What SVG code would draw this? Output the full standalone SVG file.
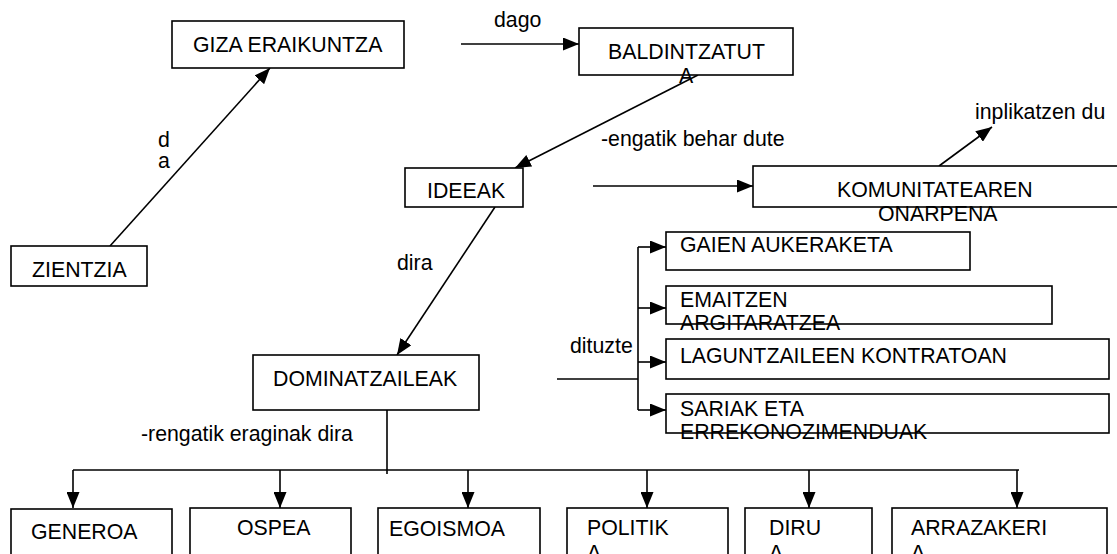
<svg xmlns="http://www.w3.org/2000/svg" width="1117" height="554" viewBox="0 0 1117 554">
  <style>
    .box { fill: #fff; stroke: #000; stroke-width: 1.6; }
    .t { font-family: "Liberation Sans", Arial, sans-serif; font-size: 21.3px; fill: #000; }
    .ln { fill: none; stroke: #000; stroke-width: 1.6; }
    .arr { fill: none; stroke: #000; stroke-width: 1.6; marker-end: url(#ah); }
  </style>
  <defs>
    <marker id="ah" markerUnits="userSpaceOnUse" markerWidth="17" markerHeight="13" refX="16" refY="6.5" orient="auto">
      <path d="M0,0 L16,6.5 L0,13 z" fill="#000"/>
    </marker>
  </defs>
  <rect width="1117" height="554" fill="#fff"/>

  <!-- connectors and their labels -->
  <g id="connectors">
    <line class="arr" x1="110" y1="246" x2="270" y2="68"/>
    <text class="t" x="158" y="147">d</text>
    <text class="t" x="158" y="168">a</text>

    <line class="arr" x1="461" y1="44" x2="579" y2="44"/>
    <text class="t" x="494" y="27">dago</text>

    <line class="arr" x1="698" y1="75" x2="515" y2="168"/>

    <line class="arr" x1="593" y1="186" x2="753" y2="186"/>
    <text class="t" x="601" y="146">-engatik behar dute</text>

    <line class="arr" x1="939" y1="166" x2="992" y2="127"/>
    <text class="t" x="975" y="119">inplikatzen du</text>

    <line class="arr" x1="495" y1="207" x2="397" y2="355"/>
    <text class="t" x="397" y="270">dira</text>

    <!-- bracket towards the four activities -->
    <line class="ln" x1="557" y1="379" x2="638" y2="379"/>
    <line class="ln" x1="638" y1="247" x2="638" y2="410"/>
    <line class="arr" x1="638" y1="247" x2="666" y2="247"/>
    <line class="arr" x1="638" y1="308" x2="666" y2="308"/>
    <line class="arr" x1="638" y1="362" x2="666" y2="362"/>
    <line class="arr" x1="638" y1="410" x2="666" y2="410"/>
    <text class="t" x="570" y="353">dituzte</text>

    <!-- tree from DOMINATZAILEAK down to the influences -->
    <line class="ln" x1="387" y1="410" x2="387" y2="474"/>
    <line class="ln" x1="73" y1="470" x2="1019" y2="470"/>
    <line class="arr" x1="73" y1="470" x2="73" y2="508"/>
    <line class="arr" x1="280" y1="470" x2="280" y2="508"/>
    <line class="arr" x1="468" y1="470" x2="468" y2="508"/>
    <line class="arr" x1="647" y1="470" x2="647" y2="508"/>
    <line class="arr" x1="809" y1="470" x2="809" y2="508"/>
    <line class="arr" x1="1017" y1="470" x2="1017" y2="508"/>
    <text class="t" x="141" y="441">-rengatik eraginak dira</text>
  </g>

  <g id="giza-eraikuntza">
    <rect class="box" x="172" y="21" width="232" height="47"/>
    <text class="t" x="193" y="52">GIZA ERAIKUNTZA</text>
  </g>
  <g id="zientzia">
    <rect class="box" x="11" y="246" width="136" height="40"/>
    <text class="t" x="32" y="277">ZIENTZIA</text>
  </g>
  <g id="baldintzatuta">
    <rect class="box" x="579" y="28" width="214" height="47"/>
    <text class="t" x="608" y="59">BALDINTZATUT</text>
    <text class="t" x="679" y="83">A</text>
  </g>
  <g id="ideeak">
    <rect class="box" x="405" y="168" width="118" height="39"/>
    <text class="t" x="427" y="198">IDEEAK</text>
  </g>
  <g id="komunitatearen-onarpena">
    <rect class="box" x="753" y="166" width="390" height="41"/>
    <text class="t" x="837" y="197">KOMUNITATEAREN</text>
    <text class="t" x="878" y="221">ONARPENA</text>
  </g>
  <g id="dominatzaileak">
    <rect class="box" x="253" y="355" width="226" height="55"/>
    <text class="t" x="273" y="386">DOMINATZAILEAK</text>
  </g>
  <g id="gaien-aukeraketa">
    <rect class="box" x="666" y="232" width="304" height="38"/>
    <text class="t" x="680" y="252">GAIEN AUKERAKETA</text>
  </g>
  <g id="emaitzen-argitaratzea">
    <rect class="box" x="666" y="286" width="386" height="38"/>
    <text class="t" x="680" y="307">EMAITZEN</text>
    <text class="t" x="680" y="330">ARGITARATZEA</text>
  </g>
  <g id="laguntzaileen-kontratoan">
    <rect class="box" x="666" y="339" width="443" height="40"/>
    <text class="t" x="680" y="363">LAGUNTZAILEEN KONTRATOAN</text>
  </g>
  <g id="sariak-eta-errekonozimenduak">
    <rect class="box" x="666" y="394" width="443" height="39"/>
    <text class="t" x="680" y="416">SARIAK ETA</text>
    <text class="t" x="680" y="439">ERREKONOZIMENDUAK</text>
  </g>

  <g id="generoa">
    <rect class="box" x="11" y="509" width="161" height="60"/>
    <text class="t" x="31" y="539">GENEROA</text>
  </g>
  <g id="ospea">
    <rect class="box" x="190" y="508" width="161" height="60"/>
    <text class="t" x="237" y="535">OSPEA</text>
  </g>
  <g id="egoismoa">
    <rect class="box" x="378" y="508" width="162" height="60"/>
    <text class="t" x="389" y="536">EGOISMOA</text>
  </g>
  <g id="politika">
    <rect class="box" x="567" y="508" width="161" height="60"/>
    <text class="t" x="587" y="535">POLITIK</text>
    <text class="t" x="587" y="560">A</text>
  </g>
  <g id="dirua">
    <rect class="box" x="745" y="508" width="127" height="60"/>
    <text class="t" x="769" y="535">DIRU</text>
    <text class="t" x="769" y="560">A</text>
  </g>
  <g id="arrazakeria">
    <rect class="box" x="892" y="508" width="215" height="60"/>
    <text class="t" x="911" y="535">ARRAZAKERI</text>
    <text class="t" x="911" y="560">A</text>
  </g>
</svg>
